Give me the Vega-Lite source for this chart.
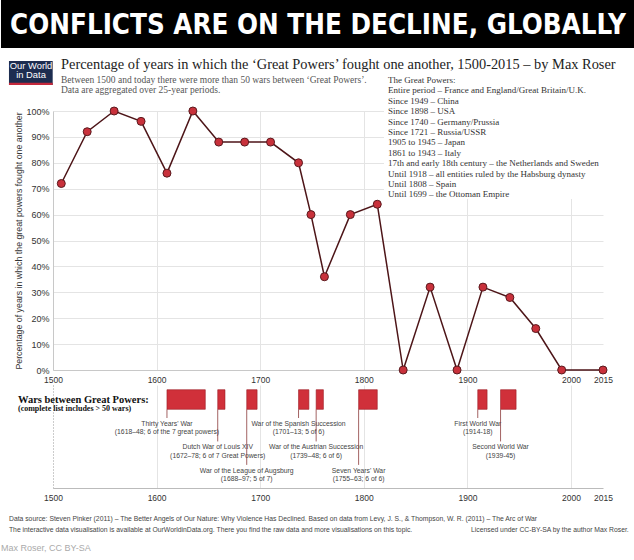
{
  "$schema": "https://vega.github.io/schema/vega-lite/v6.json",
  "padding": 0,
  "background": "white",
  "config": {"font": "Liberation Sans", "view": {"stroke": null}},
  "bounds": "flush",
  "spacing": 63,
  "resolve": {"scale": {"x": "independent", "y": "independent"}},
  "vconcat": [
    {
      "width": 550,
      "height": 48,
      "data": {"values": [{"headline": "CONFLICTS ARE ON THE DECLINE, GLOBALLY", "logo": "Our World in Data"}]},
      "encoding": {
        "x": {"datum": 1449.8, "type": "quantitative", "scale": {"domain": [1500, 2000, 2015], "range": [0, 518, 550], "nice": false, "zero": false}, "axis": null},
        "y": {"datum": 1, "type": "quantitative", "scale": {"domain": [0, 1], "nice": false, "zero": false}, "axis": null}
      },
      "layer": [
        {"mark": {"type": "rect", "fill": "#000"},
          "encoding": {"x2": {"datum": 2030}, "y2": {"datum": 0}}},
        {"mark": {"type": "text", "font": "Liberation Sans Narrow, DejaVu Sans Condensed, Liberation Sans", "fontWeight": "bold", "fontSize": 27.5, "color": "#fff", "baseline": "middle", "align": "center"},
          "encoding": {"x": {"datum": 1755.8, "type": "quantitative"}, "y": {"datum": 0.46, "type": "quantitative"}, "text": {"field": "headline"}}},
        {"mark": {"type": "rect", "fill": "#1d2d50"},
          "encoding": {"x": {"datum": 1457.5, "type": "quantitative"}, "x2": {"datum": 1499.7}, "y": {"datum": -0.2708, "type": "quantitative"}, "y2": {"datum": -0.7708}}},
        {"mark": {"type": "rect", "fill": "#c4283c"},
          "encoding": {"x": {"datum": 1457.5, "type": "quantitative"}, "x2": {"datum": 1499.7}, "y": {"datum": -0.7229, "type": "quantitative"}, "y2": {"datum": -0.7708}}},
        {"mark": {"type": "text", "text": ["Our World", "in Data"], "fontSize": 9.4, "lineHeight": 9.5, "color": "#fff", "align": "center", "baseline": "middle"},
          "encoding": {"x": {"datum": 1478.8, "type": "quantitative"}, "y": {"datum": -0.37, "type": "quantitative"}}}
      ]
    },
    {
      "bounds": "flush",
      "spacing": 15,
      "resolve": {"scale": {"x": "independent", "y": "independent"}},
      "vconcat": [
        {
          "width": 550,
          "height": 259,
          "title": {
            "text": "Percentage of years in which the ‘Great Powers’ fought one another, 1500-2015 – by Max Roser",
            "subtitle": ["Between 1500 and today there were more than 50 wars between ‘Great Powers’.", "Data are aggregated over 25-year periods."],
            "anchor": "start", "frame": "group", "dx": 8,
            "font": "Liberation Serif", "fontSize": 14.4, "fontWeight": "normal", "color": "#222",
            "subtitleFont": "Liberation Serif", "subtitleFontSize": 9.5, "subtitleColor": "#555", "subtitleLineHeight": 10, "subtitlePadding": 2.5,
            "offset": 9.5
          },
          "data": {"values": [
            {"year": 1508, "pct": 72}, {"year": 1533, "pct": 92}, {"year": 1559, "pct": 100}, {"year": 1585, "pct": 96},
            {"year": 1610, "pct": 76}, {"year": 1635, "pct": 100}, {"year": 1660, "pct": 88}, {"year": 1685, "pct": 88},
            {"year": 1710, "pct": 88}, {"year": 1737, "pct": 80}, {"year": 1749, "pct": 60}, {"year": 1762, "pct": 36},
            {"year": 1787, "pct": 60}, {"year": 1813, "pct": 64}, {"year": 1838, "pct": 0}, {"year": 1864, "pct": 32},
            {"year": 1890, "pct": 0}, {"year": 1915, "pct": 32}, {"year": 1941, "pct": 28}, {"year": 1966, "pct": 16},
            {"year": 1991, "pct": 0}, {"year": 2015, "pct": 0}
          ]},
          "encoding": {
            "x": {"field": "year", "type": "quantitative",
              "scale": {"domain": [1500, 2000, 2015], "range": [0, 518, 550], "nice": false, "zero": false},
              "axis": {"title": null, "values": [1500, 1600, 1700, 1800, 1900, 2000, 2015], "format": "d", "labelFontSize": 8.5, "labelColor": "#333", "ticks": false, "labelPadding": 5, "labelFlush": false, "labelOverlap": false, "domainColor": "#c8c8c8",
                "gridColor": {"condition": {"test": "datum.value === 2015", "value": "transparent"}, "value": "#e4e4e4"}}},
            "y": {"field": "pct", "type": "quantitative",
              "scale": {"domain": [0, 100], "nice": false},
              "axis": {"title": "Percentage of years in which the great powers fought one another", "titleFontSize": 8.8, "titleFontWeight": "normal", "titleColor": "#333", "titlePadding": 2,
                "values": [0, 10, 20, 30, 40, 50, 60, 70, 80, 90, 100], "labelExpr": "datum.value + '%'", "labelFontSize": 9, "labelColor": "#333", "labelPadding": 4, "ticks": false, "domainColor": "#c8c8c8", "gridColor": "#e4e4e4"}}
          },
          "layer": [
            {"mark": {"type": "line", "color": "#4d1518", "strokeWidth": 1.5}},
            {"mark": {"type": "point", "filled": true, "fill": "#c8313b", "stroke": "#5a1a1e", "strokeWidth": 1, "size": 64, "opacity": 1}}
          ]
        },
        {
          "width": 550,
          "height": 103,
          "data": {"values": [
            {"war": "Thirty Years' War", "detail": "(1618–48; 6 of the 7 great powers)", "start": 1610, "end": 1647},
            {"war": "Dutch War of Louis XIV", "detail": "(1672–78; 6 of 7 Great Powers)", "start": 1659, "end": 1666},
            {"war": "War of the League of Augsburg", "detail": "(1688–97; 5 of 7)", "start": 1687, "end": 1697},
            {"war": "War of the Spanish Succession", "detail": "(1701–13; 5 of 6)", "start": 1737, "end": 1747},
            {"war": "War of the Austrian Succession", "detail": "(1739–48; 6 of 6)", "start": 1754, "end": 1761},
            {"war": "Seven Years' War", "detail": "(1755–63; 6 of 6)", "start": 1795, "end": 1813},
            {"war": "First World War", "detail": "(1914-18)", "start": 1910, "end": 1919},
            {"war": "Second World War", "detail": "(1939-45)", "start": 1932, "end": 1947}
          ]},
          "encoding": {
            "x": {"field": "start", "type": "quantitative",
              "scale": {"domain": [1500, 2000, 2015], "range": [0, 518, 550], "nice": false, "zero": false},
              "axis": {"title": null, "values": [1500, 1600, 1700, 1800, 1900, 2000, 2015], "format": "d", "labelFontSize": 8.5, "labelColor": "#333", "ticks": false, "labelPadding": 5, "labelFlush": false, "labelOverlap": false, "domainColor": "#bbb", "grid": true,
                "gridColor": {"condition": [{"test": "datum.value === 1500", "value": "#999"}, {"test": "datum.value === 2015", "value": "transparent"}], "value": "#e4e4e4"},
                "gridDash": {"condition": {"test": "datum.value === 1500", "value": [1, 2]}, "value": []}}}
          },
          "layer": [
            {"mark": {"type": "rect", "fill": "#d0303a", "stroke": "#9a1d25", "strokeWidth": 0.6},
              "encoding": {"x2": {"field": "end"},
                "y": {"datum": -0.633, "type": "quantitative", "scale": {"domain": [-0.834, 3.559], "reverse": true, "nice": false, "zero": false}, "axis": null},
                "y2": {"datum": 0.203}}},
            {"transform": [{"filter": {"field": "war", "oneOf": ["Thirty Years' War", "War of the Spanish Succession", "First World War"]}}],
              "layer": [
                {"mark": {"type": "rule", "color": "#8c3b3b", "strokeWidth": 0.8, "y2Offset": -10}, "encoding": {"y": {"datum": 0.203}, "y2": {"datum": 1}}},
                {"mark": {"type": "text", "fontSize": 6.8, "color": "#444", "baseline": "middle", "dy": -4.2}, "encoding": {"y": {"datum": 1}, "text": {"field": "war"}}},
                {"mark": {"type": "text", "fontSize": 6.8, "color": "#444", "baseline": "middle", "dy": 4.2}, "encoding": {"y": {"datum": 1}, "text": {"field": "detail"}}}
              ]},
            {"transform": [{"filter": {"field": "war", "oneOf": ["Dutch War of Louis XIV", "War of the Austrian Succession", "Second World War"]}}],
              "layer": [
                {"mark": {"type": "rule", "color": "#8c3b3b", "strokeWidth": 0.8, "y2Offset": -10}, "encoding": {"y": {"datum": 0.203}, "y2": {"datum": 2}}},
                {"mark": {"type": "text", "fontSize": 6.8, "color": "#444", "baseline": "middle", "dy": -4.2}, "encoding": {"y": {"datum": 2}, "text": {"field": "war"}}},
                {"mark": {"type": "text", "fontSize": 6.8, "color": "#444", "baseline": "middle", "dy": 4.2}, "encoding": {"y": {"datum": 2}, "text": {"field": "detail"}}}
              ]},
            {"transform": [{"filter": {"field": "war", "oneOf": ["War of the League of Augsburg", "Seven Years' War"]}}],
              "layer": [
                {"mark": {"type": "rule", "color": "#8c3b3b", "strokeWidth": 0.8, "y2Offset": -10}, "encoding": {"y": {"datum": 0.203}, "y2": {"datum": 3}}},
                {"mark": {"type": "text", "fontSize": 6.8, "color": "#444", "baseline": "middle", "dy": -4.2}, "encoding": {"y": {"datum": 3}, "text": {"field": "war"}}},
                {"mark": {"type": "text", "fontSize": 6.8, "color": "#444", "baseline": "middle", "dy": 4.2}, "encoding": {"y": {"datum": 3}, "text": {"field": "detail"}}}
              ]},
            {"transform": [{"filter": {"field": "war", "equal": "Thirty Years' War"}}],
              "layer": [
                {"mark": {"type": "rect", "fill": "#fff"},
                  "encoding": {"x": {"datum": 1819.5, "type": "quantitative"}, "x2": {"datum": 2016.9}, "y": {"datum": -14.055, "type": "quantitative"}, "y2": {"datum": -8.766}}},
                {"mark": {"type": "text", "font": "Liberation Serif", "fontSize": 9, "lineHeight": 10.4, "color": "#333", "align": "left", "baseline": "middle",
                    "text": ["The Great Powers:",
                      "\u00a0\u00a0Entire period – France and England/Great Britain/U.K.",
                      "\u00a0\u00a0Since 1949 – China",
                      "\u00a0\u00a0Since 1898 – USA",
                      "\u00a0\u00a0Since 1740 – Germany/Prussia",
                      "\u00a0\u00a0Since 1721 – Russia/USSR",
                      "\u00a0\u00a01905 to 1945 – Japan",
                      "\u00a0\u00a01861 to 1943 – Italy",
                      "\u00a0\u00a017th and early 18th century – the Netherlands and Sweden",
                      "\u00a0\u00a0Until 1918 – all entities ruled by the Habsburg dynasty",
                      "\u00a0\u00a0Until 1808 – Spain",
                      "\u00a0\u00a0Until 1699 – the Ottoman Empire"]},
                  "encoding": {"x": {"datum": 1823.4, "type": "quantitative"}, "y": {"datum": -13.84, "type": "quantitative"}}},
                {"mark": {"type": "text", "text": "Wars between Great Powers:", "font": "Liberation Serif", "fontWeight": "bold", "fontSize": 10.5, "color": "#111", "align": "left", "baseline": "middle"},
                  "encoding": {"x": {"datum": 1466.2, "type": "quantitative"}, "y": {"datum": -0.21, "type": "quantitative"}}},
                {"mark": {"type": "text", "text": "(complete list includes > 50 wars)", "font": "Liberation Serif", "fontWeight": "bold", "fontSize": 8, "color": "#111", "align": "left", "baseline": "middle"},
                  "encoding": {"x": {"datum": 1466.2, "type": "quantitative"}, "y": {"datum": 0.17, "type": "quantitative"}}},
                {"mark": {"type": "text", "text": "Data source: Steven Pinker (2011) – The Better Angels of Our Nature: Why Violence Has Declined. Based on data from Levy, J. S., & Thompson, W. R. (2011) – The Arc of War", "fontSize": 6.8, "color": "#444", "align": "left", "baseline": "middle"},
                  "encoding": {"x": {"datum": 1457.5, "type": "quantitative"}, "y": {"datum": 4.881, "type": "quantitative"}}},
                {"mark": {"type": "text", "text": "The interactive data visualisation is available at OurWorldinData.org. There you find the raw data and more visualisations on this topic.", "fontSize": 6.8, "color": "#444", "align": "left", "baseline": "middle"},
                  "encoding": {"x": {"datum": 1457.5, "type": "quantitative"}, "y": {"datum": 5.35, "type": "quantitative"}}},
                {"mark": {"type": "text", "text": "Licensed under CC-BY-SA by the author Max Roser.", "fontSize": 6.8, "color": "#444", "align": "left", "baseline": "middle"},
                  "encoding": {"x": {"datum": 1903.5, "type": "quantitative"}, "y": {"datum": 5.35, "type": "quantitative"}}},
                {"mark": {"type": "text", "text": "Max Roser, CC BY-SA", "fontSize": 9, "color": "#aaa", "align": "left", "baseline": "middle"},
                  "encoding": {"x": {"datum": 1449.8, "type": "quantitative"}, "y": {"datum": 6.117, "type": "quantitative"}}}
              ]}
          ]
        }
      ]
    }
  ]
}
